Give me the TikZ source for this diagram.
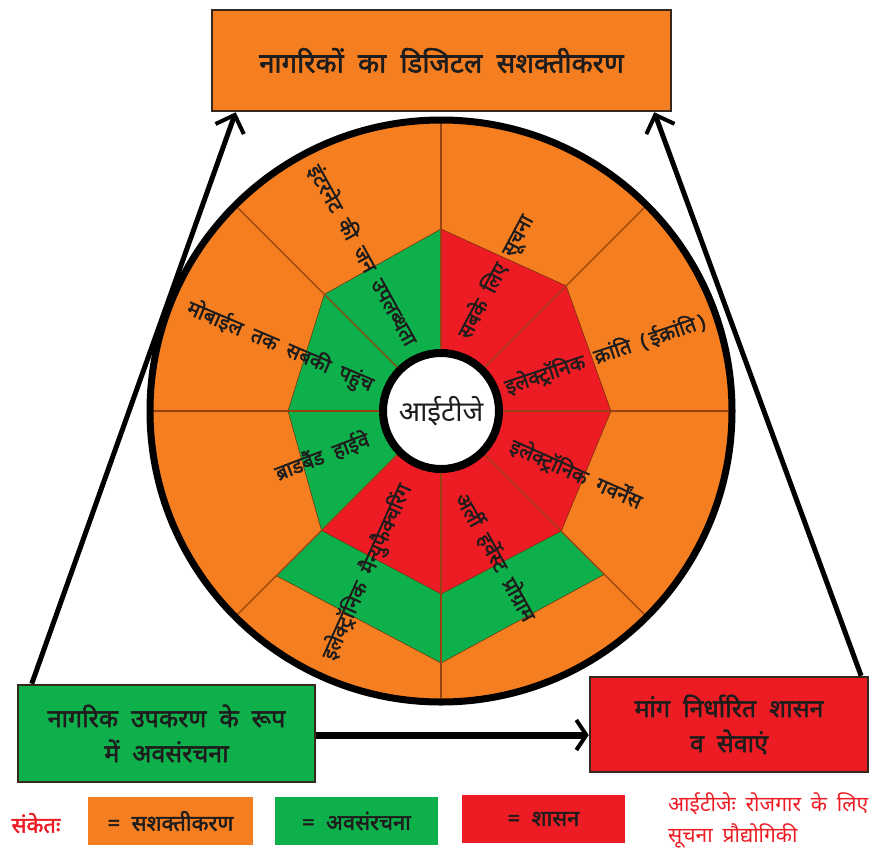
\documentclass[tikz,border=0pt]{standalone}
\usepackage{fontspec}
\newfontfamily\dev[Script=Devanagari,WordSpace=1.8]{Noto Sans}
\newfontfamily\devb[Script=Devanagari,FakeBold=2,WordSpace=2]{Noto Sans}
\usetikzlibrary{arrows.meta,calc}
\definecolor{orng}{RGB}{245,127,32}
\definecolor{grn}{RGB}{14,176,75}
\definecolor{rd}{RGB}{237,28,36}
\definecolor{brn}{RGB}{150,66,18}
\definecolor{edge}{RGB}{55,40,30}
\definecolor{txt}{RGB}{30,28,28}
\begin{document}
\begin{tikzpicture}[x=1pt,y=-1pt,
  box/.style={draw=edge,line width=2.5pt,inner sep=0pt,align=center,text=txt,
    font=\devb\fontsize{25}{35}\selectfont},
  legbox/.style={inner sep=0pt,text=txt,minimum height=48pt,
    font=\devb\fontsize{22}{24}\selectfont},
  lbl/.style={font=\devb\fontsize{20.5}{22}\selectfont,text=txt,inner sep=0pt},
  bigarr/.style={line width=5pt,-{Straight Barb[length=15pt,width=30pt,line width=4pt]}},
  radial/.style={brn,line width=1.2pt},
  edgeline/.style={brn!70!black,line width=0.5pt}]
\useasboundingbox[fill=white] (0,0) rectangle (881,847);

% ---------- boxes ----------
\node[box,fill=orng,minimum width=459pt,minimum height=101pt,font=\devb\fontsize{27.5}{32}\selectfont] (title) at (441.5,60.5)
  {नागरिकों का डिजिटल सशक्तीकरण};
\node[box,fill=grn,minimum width=297pt,minimum height=97pt] (gbox) at (166.5,733.5)
  {नागरिक उपकरण के रूप\\में अवसंरचना};
\node[box,fill=rd,minimum width=278pt,minimum height=95pt] (rbox) at (729,724.5)
  {मांग निर्धारित शासन\\व सेवाएं};

% ---------- wheel ----------
\begin{scope}[shift={(441,411)},y=1pt]
  \fill[orng] (0,0) circle (291);
  \coordinate (v0) at (0:170);
  \coordinate (v45) at (45:177);
  \coordinate (v90) at (90:182);
  \coordinate (v135) at (135:165);
  \coordinate (v180) at (180:153);
  \coordinate (v225) at (225:169);
  \coordinate (v270) at (270:183);
  \coordinate (v315) at (315:170);
  \coordinate (w225) at (225:233);
  \coordinate (w270) at (270:252);
  \coordinate (w315) at (315:231);
  \fill[grn] (0,0) -- (v90) -- (v135) -- (v180) -- (v225) -- cycle;
  \fill[rd] (0,0) -- (v225) -- (v270) -- (v315) -- (v0) -- (v45) -- (v90) -- cycle;
  \fill[grn] (v225) -- (w225) -- (w270) -- (w315) -- (v315) -- (v270) -- cycle;
  \draw[edgeline] (v0) -- (v45) -- (v90) -- (v135) -- (v180) -- (v225) -- (v270) -- (v315) -- cycle;
  \draw[edgeline] (w225) -- (w270) -- (w315);
  \foreach \a in {0,45,...,315} \draw[radial] (0,0) -- (\a:290);
  \draw[line width=7pt] (0,0) circle (291);
  \draw[line width=8pt,fill=white] (0,0) circle (58);
  \node[font=\dev\fontsize{28}{30}\selectfont,text=txt] (itj) at (0,0) {आईटीजे};
\end{scope}

% ---------- sector labels ----------
\node[lbl,rotate=-61] (l1) at (363,255) {इंटरनेट की जन उपलब्धता};
\node[lbl,rotate=62] (l2) at (496,277) {सबके लिए सूचना};
\node[lbl,rotate=18.6] (l3) at (605,354) {इलेक्ट्रॉनिक क्रांति (\,ईक्रांति\,)};
\node[lbl,rotate=-24] (l4) at (576,474) {इलेक्ट्रॉनिक गवर्नेंस};
\node[lbl,rotate=-61] (l5) at (496,557) {अर्ली हर्वेस्ट प्रोग्राम};
\node[lbl,rotate=66] (l6) at (367,572) {इलेक्ट्रॉनिक मैन्युफैक्चरिंग};
\node[lbl,rotate=21] (l7) at (322,456) {ब्राडबैंड हाईवे};
\node[lbl,rotate=-23] (l8) at (280,347) {मोबाईल तक सबकी पहुंच};

% ---------- connectors ----------
\draw[bigarr] ($(gbox.north west)!0.05!(gbox.north east)$) -- ($(title.south west)!0.054!(title.south east)$);
\draw[bigarr] ($(rbox.north west)!0.971!(rbox.north east)$) -- ($(title.south west)!0.961!(title.south east)$);
\coordinate (bs) at ($(gbox.east)+(0,1.5)$);
\draw[line width=7pt,-{Straight Barb[length=10pt,width=30pt,line width=4pt]}] (bs) -- (bs -| rbox.west);

% ---------- legend ----------
\node[text=rd,font=\devb\fontsize{22}{24}\selectfont,inner sep=0pt] (key) at (36,823) {संकेतः};
\node[legbox,fill=orng,minimum width=165pt] (lo) at (170.5,821) {= सशक्तीकरण};
\node[legbox,fill=grn,minimum width=163pt] (lg) at (356.5,821) {= अवसंरचना};
\node[legbox,fill=rd,minimum width=163pt] (lr) at (543.5,819) {= शासन};
\node[anchor=west,align=left,text=rd,inner sep=0pt,font=\dev\fontsize{21}{31}\selectfont] (note) at (668,820)
  {आईटीजेः रोजगार के लिए\\सूचना प्रौद्योगिकी};
\end{tikzpicture}
\end{document}
